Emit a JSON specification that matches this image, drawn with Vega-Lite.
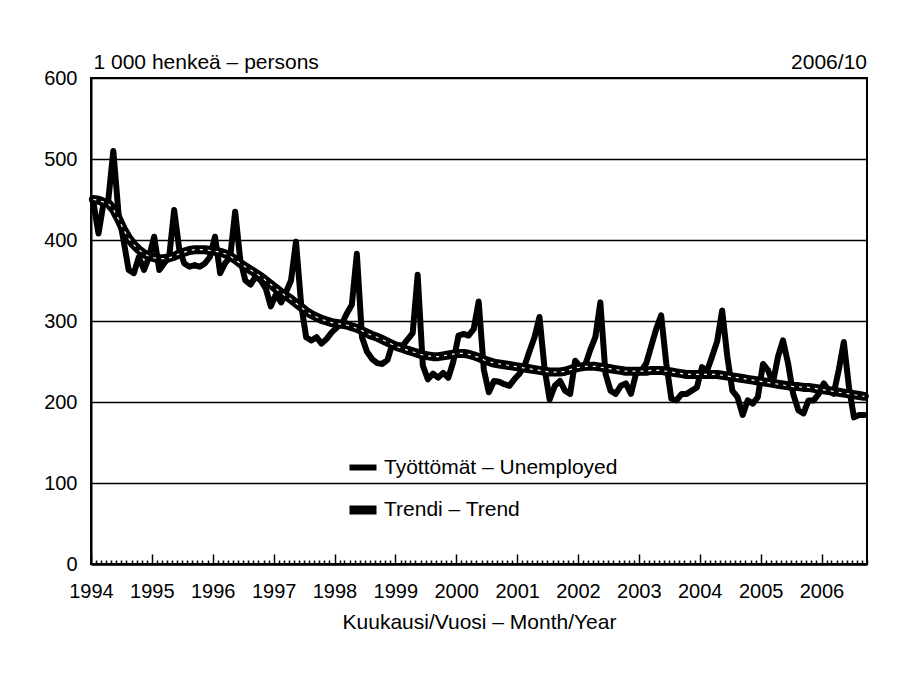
{
 "$schema": "https://vega.github.io/schema/vega-lite/v6.json",
 "width": 776,
 "height": 486,
 "autosize": {"type": "none"},
 "padding": {"left": 91, "top": 78, "right": 31, "bottom": 111},
 "background": "white",
 "config": {
  "font": "Liberation Sans, Arial, sans-serif",
  "view": {"stroke": "black", "strokeWidth": 2},
  "axis": {"labelFontSize": 20, "labelColor": "black", "titleColor": "black", "titleFontWeight": "normal", "titleFontSize": 21},
  "legend": {"labelFontSize": 21, "labelColor": "black", "labelLimit": 400}
 },
 "title": {"text": "2006/10", "anchor": "end", "frame": "group", "fontSize": 21, "fontWeight": "normal", "offset": 8, "dy": 30, "color": "black"},
 "datasets": {
  "m": [
   {"d":"1994-01-15","u":447,"t":450},{"d":"1994-02-15","u":408,"t":449},{"d":"1994-03-15","u":443,"t":447},{"d":"1994-04-15","u":450,"t":445},{"d":"1994-05-15","u":510,"t":438},{"d":"1994-06-15","u":433,"t":426},{"d":"1994-07-15","u":400,"t":413},{"d":"1994-08-15","u":363,"t":402},{"d":"1994-09-15","u":359,"t":394},{"d":"1994-10-15","u":379,"t":388},{"d":"1994-11-15","u":363,"t":383},{"d":"1994-12-15","u":379,"t":380},
   {"d":"1995-01-15","u":404,"t":378},{"d":"1995-02-15","u":363,"t":377},{"d":"1995-03-15","u":371,"t":377},{"d":"1995-04-15","u":379,"t":378},{"d":"1995-05-15","u":437,"t":380},{"d":"1995-06-15","u":388,"t":383},{"d":"1995-07-15","u":371,"t":385},{"d":"1995-08-15","u":367,"t":387},{"d":"1995-09-15","u":369,"t":388},{"d":"1995-10-15","u":367,"t":388},{"d":"1995-11-15","u":371,"t":388},{"d":"1995-12-15","u":379,"t":387},
   {"d":"1996-01-15","u":404,"t":386},{"d":"1996-02-15","u":359,"t":385},{"d":"1996-03-15","u":371,"t":383},{"d":"1996-04-15","u":379,"t":380},{"d":"1996-05-15","u":435,"t":376},{"d":"1996-06-15","u":375,"t":371},{"d":"1996-07-15","u":350,"t":367},{"d":"1996-08-15","u":345,"t":363},{"d":"1996-09-15","u":355,"t":359},{"d":"1996-10-15","u":350,"t":355},{"d":"1996-11-15","u":340,"t":350},{"d":"1996-12-15","u":318,"t":345},
   {"d":"1997-01-15","u":333,"t":340},{"d":"1997-02-15","u":323,"t":335},{"d":"1997-03-15","u":335,"t":331},{"d":"1997-04-15","u":350,"t":327},{"d":"1997-05-15","u":398,"t":322},{"d":"1997-06-15","u":320,"t":317},{"d":"1997-07-15","u":280,"t":312},{"d":"1997-08-15","u":276,"t":308},{"d":"1997-09-15","u":280,"t":305},{"d":"1997-10-15","u":272,"t":302},{"d":"1997-11-15","u":278,"t":300},{"d":"1997-12-15","u":286,"t":298},
   {"d":"1998-01-15","u":292,"t":297},{"d":"1998-02-15","u":297,"t":296},{"d":"1998-03-15","u":309,"t":295},{"d":"1998-04-15","u":320,"t":293},{"d":"1998-05-15","u":383,"t":291},{"d":"1998-06-15","u":280,"t":288},{"d":"1998-07-15","u":262,"t":285},{"d":"1998-08-15","u":253,"t":282},{"d":"1998-09-15","u":248,"t":280},{"d":"1998-10-15","u":247,"t":277},{"d":"1998-11-15","u":252,"t":274},{"d":"1998-12-15","u":272,"t":271},
   {"d":"1999-01-15","u":270,"t":268},{"d":"1999-02-15","u":270,"t":266},{"d":"1999-03-15","u":277,"t":264},{"d":"1999-04-15","u":285,"t":262},{"d":"1999-05-15","u":357,"t":260},{"d":"1999-06-15","u":245,"t":258},{"d":"1999-07-15","u":228,"t":257},{"d":"1999-08-15","u":235,"t":256},{"d":"1999-09-15","u":230,"t":256},{"d":"1999-10-15","u":236,"t":257},{"d":"1999-11-15","u":230,"t":258},{"d":"1999-12-15","u":250,"t":259},
   {"d":"2000-01-15","u":282,"t":260},{"d":"2000-02-15","u":284,"t":260},{"d":"2000-03-15","u":282,"t":259},{"d":"2000-04-15","u":290,"t":257},{"d":"2000-05-15","u":324,"t":255},{"d":"2000-06-15","u":240,"t":252},{"d":"2000-07-15","u":212,"t":250},{"d":"2000-08-15","u":226,"t":248},{"d":"2000-09-15","u":225,"t":247},{"d":"2000-10-15","u":222,"t":246},{"d":"2000-11-15","u":220,"t":245},{"d":"2000-12-15","u":228,"t":244},
   {"d":"2001-01-15","u":235,"t":243},{"d":"2001-02-15","u":245,"t":242},{"d":"2001-03-15","u":262,"t":241},{"d":"2001-04-15","u":280,"t":240},{"d":"2001-05-15","u":305,"t":239},{"d":"2001-06-15","u":240,"t":238},{"d":"2001-07-15","u":203,"t":237},{"d":"2001-08-15","u":220,"t":237},{"d":"2001-09-15","u":226,"t":237},{"d":"2001-10-15","u":214,"t":238},{"d":"2001-11-15","u":210,"t":240},{"d":"2001-12-15","u":251,"t":242},
   {"d":"2002-01-15","u":243,"t":243},{"d":"2002-02-15","u":247,"t":244},{"d":"2002-03-15","u":264,"t":244},{"d":"2002-04-15","u":280,"t":244},{"d":"2002-05-15","u":323,"t":243},{"d":"2002-06-15","u":235,"t":242},{"d":"2002-07-15","u":214,"t":241},{"d":"2002-08-15","u":210,"t":240},{"d":"2002-09-15","u":220,"t":239},{"d":"2002-10-15","u":223,"t":238},{"d":"2002-11-15","u":210,"t":238},{"d":"2002-12-15","u":235,"t":238},
   {"d":"2003-01-15","u":238,"t":238},{"d":"2003-02-15","u":248,"t":238},{"d":"2003-03-15","u":268,"t":239},{"d":"2003-04-15","u":290,"t":239},{"d":"2003-05-15","u":307,"t":239},{"d":"2003-06-15","u":247,"t":238},{"d":"2003-07-15","u":204,"t":237},{"d":"2003-08-15","u":202,"t":236},{"d":"2003-09-15","u":210,"t":235},{"d":"2003-10-15","u":210,"t":234},{"d":"2003-11-15","u":214,"t":234},{"d":"2003-12-15","u":218,"t":234},
   {"d":"2004-01-15","u":243,"t":234},{"d":"2004-02-15","u":239,"t":234},{"d":"2004-03-15","u":256,"t":234},{"d":"2004-04-15","u":275,"t":234},{"d":"2004-05-15","u":313,"t":233},{"d":"2004-06-15","u":256,"t":232},{"d":"2004-07-15","u":214,"t":231},{"d":"2004-08-15","u":206,"t":230},{"d":"2004-09-15","u":184,"t":229},{"d":"2004-10-15","u":202,"t":228},{"d":"2004-11-15","u":198,"t":227},{"d":"2004-12-15","u":206,"t":226},
   {"d":"2005-01-15","u":247,"t":225},{"d":"2005-02-15","u":239,"t":224},{"d":"2005-03-15","u":223,"t":223},{"d":"2005-04-15","u":256,"t":222},{"d":"2005-05-15","u":276,"t":221},{"d":"2005-06-15","u":247,"t":220},{"d":"2005-07-15","u":210,"t":219},{"d":"2005-08-15","u":190,"t":219},{"d":"2005-09-15","u":186,"t":218},{"d":"2005-10-15","u":202,"t":218},{"d":"2005-11-15","u":202,"t":217},{"d":"2005-12-15","u":210,"t":216},
   {"d":"2006-01-15","u":223,"t":215},{"d":"2006-02-15","u":214,"t":214},{"d":"2006-03-15","u":210,"t":213},{"d":"2006-04-15","u":240,"t":212},{"d":"2006-05-15","u":274,"t":211},{"d":"2006-06-15","u":218,"t":210},{"d":"2006-07-15","u":181,"t":209},{"d":"2006-08-15","u":184,"t":208},{"d":"2006-09-15","u":184,"t":207}
  ]
 },
 "data": {"name": "m"},
 "transform": [{"fold": ["u", "t"], "as": ["key", "val"]}],
 "encoding": {
  "x": {
   "field": "d", "type": "temporal",
   "scale": {"type": "utc", "domain": [{"year": 1994, "month": 1, "date": 1, "utc": true}, {"year": 2006, "month": 10, "date": 1, "utc": true}]},
   "axis": {
    "tickCount": {"interval": "month", "step": 1},
    "tickSize": {"condition": {"test": "utcmonth(datum.value) == 0", "value": -10}, "value": -4},
    "tickColor": "black", "tickWidth": 1.5,
    "labelExpr": "utcmonth(datum.value) == 0 ? utcFormat(datum.value, '%Y') : ''",
    "labelOverlap": false, "labelFlush": false, "labelPadding": 27, "labelBaseline": "top", "labelAlign": "center",
    "grid": false, "domainColor": "black", "domainWidth": 2.5,
    "title": "Kuukausi/Vuosi – Month/Year", "titlePadding": 4
   }
  },
  "y": {
   "field": "val", "type": "quantitative",
   "scale": {"domain": [0, 600]},
   "axis": {
    "values": [0, 100, 200, 300, 400, 500, 600],
    "grid": true, "gridColor": "black", "gridWidth": 1.5,
    "ticks": false, "domainColor": "black", "domainWidth": 2, "labelPadding": 14,
    "title": "1 000 henkeä – persons", "titleAngle": 0, "titleX": 2, "titleY": -16, "titleAlign": "left", "titleBaseline": "middle"
   }
  }
 },
 "layer": [
  {
   "mark": {"type": "line", "strokeJoin": "round", "strokeCap": "round"},
   "encoding": {
    "color": {
     "field": "key", "type": "nominal",
     "scale": {"domain": ["u", "t"], "range": ["black", "black"]},
     "legend": {
      "orient": "none", "legendX": 254, "legendY": 373, "title": null, "padding": 0,
      "labelExpr": "datum.label == 'u' ? 'Työttömät – Unemployed' : 'Trendi – Trend'",
      "symbolType": "stroke", "symbolSize": 729, "labelOffset": 3, "rowPadding": 12
     }
    },
    "strokeWidth": {"field": "key", "type": "nominal", "scale": {"domain": ["u", "t"], "range": [6, 9]}}
   }
  },
  {
   "transform": [{"filter": "datum.key == 't'"}],
   "mark": {"type": "line", "color": "white", "strokeWidth": 1.2, "strokeDash": [3, 5]},
   "encoding": {}
  }
 ]
}
